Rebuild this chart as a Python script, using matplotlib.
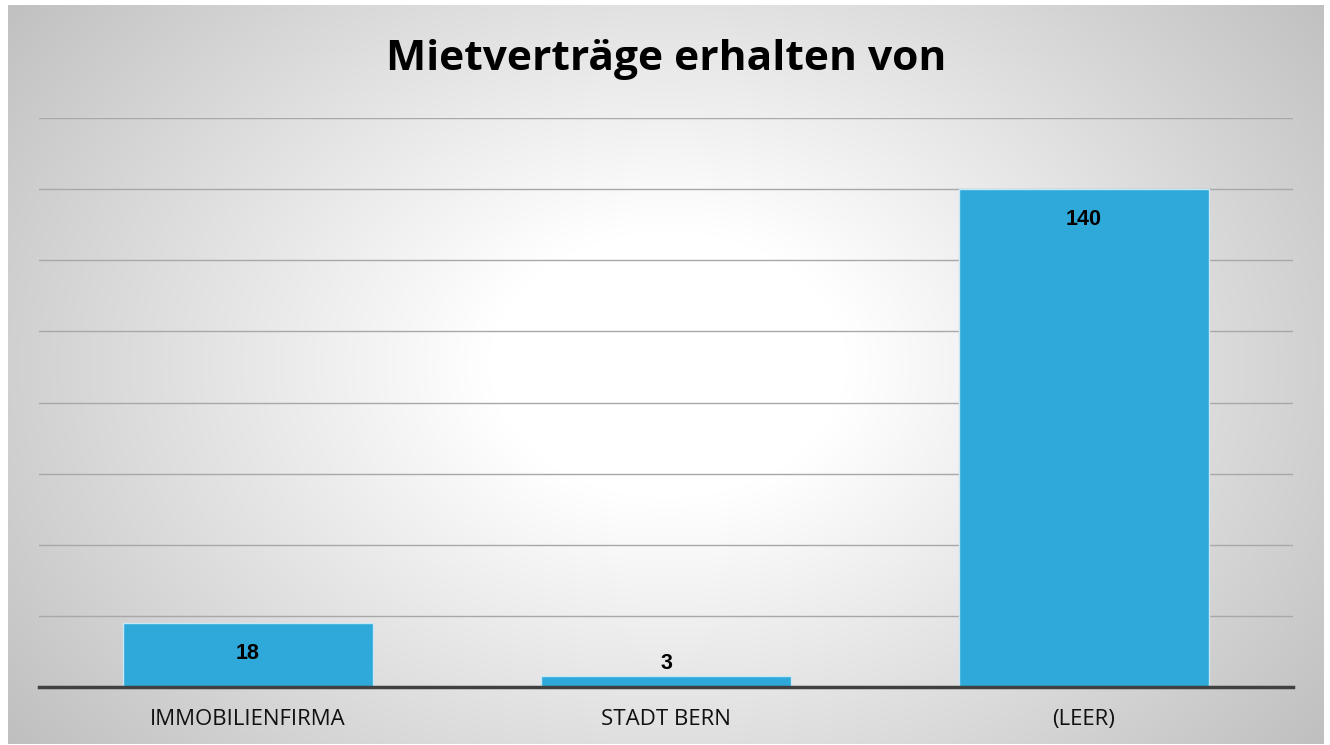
import numpy as np
import matplotlib
matplotlib.use("Agg")
import matplotlib.pyplot as plt

categories = ["IMMOBILIENFIRMA", "STADT BERN", "(LEER)"]
values = [18, 3, 140]
title = "Mietverträge erhalten von"
yticks = [0, 20, 40, 60, 80, 100, 120, 140, 160]

W, H = 1330, 745
fig = plt.figure(figsize=(W/100, H/100), dpi=100)
fig.patch.set_facecolor("white")

# background panel with radial gradient
x0, y0, x1, y1 = 8, 5, 1324, 744
bg = fig.add_axes([x0/W, 1-y1/H, (x1-x0)/W, (y1-y0)/H])
nx, ny = 660, 370
xx, yy = np.meshgrid(np.linspace(0, x1-x0, nx), np.linspace(0, y1-y0, ny))
cx, cy = 660, 360
r = np.sqrt(((xx-cx)/1.0)**2 + ((yy-cy)/0.75)**2)
t = np.clip((r-180)/650, 0, 1)
lum = 1.0 - 0.25*t
img = np.dstack([lum, lum, lum])
bg.imshow(img, extent=[0, 1, 0, 1], aspect="auto", origin="upper")
bg.set_axis_off()

# main axes
ax_l, ax_r, ax_t, ax_b = 39, 1293, 118, 687
ax = fig.add_axes([ax_l/W, 1-ax_b/H, (ax_r-ax_l)/W, (ax_b-ax_t)/H])
ax.patch.set_alpha(0)
x = np.arange(len(categories))
bars = ax.bar(x, values, width=0.6, color="#2fa9da", edgecolor="#c8e8f5", linewidth=1.0, zorder=3)
ax.set_xlim(-0.5, 2.5)
ax.set_ylim(0, 160)
ax.set_yticks(yticks)
ax.yaxis.grid(True, color="#a8a8a8", linewidth=1.0, zorder=0)
ax.tick_params(axis="y", left=False, labelleft=False)
ax.tick_params(axis="x", bottom=False, pad=12)
ax.set_xticks(x)
ax.set_xticklabels(categories, fontsize=16, family="Open Sans", color="#111111")
for s in ["top", "right", "left"]:
    ax.spines[s].set_visible(False)
ax.spines["bottom"].set_color("#404040")
ax.spines["bottom"].set_linewidth(2.5)
ax.spines["bottom"].set_zorder(4)

for xi, v in zip(x, values):
    off = -22 if v >= 10 else 9
    ax.annotate(str(v), (xi, v), xytext=(0, off), textcoords="offset points",
                ha="center", va="center", fontsize=15.5, fontweight="bold",
                family="Liberation Sans", color="#000000", zorder=5)

fig.text(666/W, 1-59/H, title, ha="center", va="center", fontsize=30.6,
         fontweight="bold", family="Open Sans", color="#000000")

fig.savefig("out.png", dpi=100)
